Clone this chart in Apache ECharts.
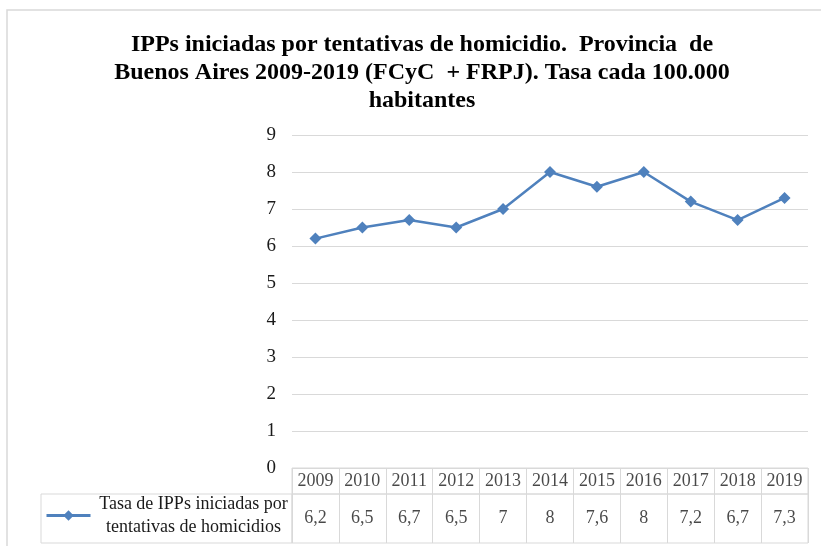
<!DOCTYPE html>
<html>
<head>
<meta charset="utf-8">
<script src="https://cdn.jsdelivr.net/npm/echarts@6/dist/echarts.min.js"></script>
<style>
html, body { margin: 0; padding: 0; background: #fff; }
#myChart { width: 821px; height: 546px; }
</style>
</head>
<body>
<div id="myChart"></div>
<script>
// datos
const years = ['2009', '2010', '2011', '2012', '2013', '2014', '2015', '2016', '2017', '2018', '2019']
const tasa = [6.2, 6.5, 6.7, 6.5, 7, 8, 7.6, 8, 7.2, 6.7, 7.3]
const seriesName = 'Tasa de IPPs iniciadas por\ntentativas de homicidios'
const titleText = 'IPPs iniciadas por tentativas de homicidio.  Provincia  de\nBuenos Aires 2009-2019 (FCyC  + FRPJ). Tasa cada 100.000\nhabitantes'

const serif = '"Liberation Serif", "Times New Roman", serif'
const gridColor = '#d9d9d9'
const txtColor = '#1a1a1a'

let myChart = echarts.init(document.getElementById('myChart'))

const tableAxis = (gi) => ({
  type: 'category',
  gridIndex: gi,
  data: years,
  axisLine: { show: false },
  axisTick: { show: false },
  axisLabel: { show: false },
  splitLine: { show: true, interval: 0, lineStyle: { color: gridColor } }
})
const hiddenY = (gi) => ({ type: 'value', gridIndex: gi, min: 0, max: 1, show: false })

myChart.setOption({
  animation: false,
  title: {
    text: titleText,
    left: 417,
    top: 26,
    textAlign: 'center',
    textStyle: { fontFamily: serif, fontWeight: 'bold', fontSize: 24, lineHeight: 28, color: '#000' }
  },
  legend: {
    data: [seriesName],
    left: 40,
    top: 490,
    itemWidth: 44,
    itemHeight: 13,
    itemGap: 4,
    lineStyle: { width: 3 },
    formatter: (name) => name.split('\n').map((s) => '{a|' + s + '}').join('\n'),
    textStyle: {
      fontFamily: serif, fontSize: 18, color: txtColor,
      rich: { a: { fontFamily: serif, fontSize: 18, lineHeight: 23, color: txtColor, width: 196, align: 'center' } }
    }
  },
  graphic: [
    { type: 'rect', shape: { x: 7, y: 10, width: 830, height: 560 }, style: { fill: 'none', stroke: gridColor, lineWidth: 1.5 }, silent: true },
    { type: 'rect', shape: { x: 41, y: 494, width: 251, height: 49 }, style: { fill: 'none', stroke: gridColor, lineWidth: 1 }, silent: true }
  ],
  grid: [
    { left: 292, right: 13, top: 135, bottom: 78 },
    { left: 292, right: 13, top: 468, height: 26, show: true, borderColor: gridColor, borderWidth: 1 },
    { left: 292, right: 13, top: 494, height: 49, show: true, borderColor: gridColor, borderWidth: 1 }
  ],
  xAxis: [
    { type: 'category', gridIndex: 0, data: years, axisLine: { show: false }, axisTick: { show: false }, axisLabel: { show: false } },
    tableAxis(1),
    tableAxis(2)
  ],
  yAxis: [
    {
      type: 'value', gridIndex: 0, min: 0, max: 9, interval: 1,
      axisLine: { show: false }, axisTick: { show: false },
      axisLabel: { fontFamily: serif, fontSize: 19, color: txtColor, margin: 16 },
      splitLine: { lineStyle: { color: gridColor } }
    },
    hiddenY(1),
    hiddenY(2)
  ],
  series: [
    {
      name: seriesName,
      type: 'line',
      data: tasa,
      symbol: 'diamond',
      symbolSize: 12,
      lineStyle: { color: '#4F81BD', width: 2.5 },
      itemStyle: { color: '#4F81BD' }
    },
    {
      type: 'scatter',
      xAxisIndex: 1,
      yAxisIndex: 1,
      symbolSize: 1,
      itemStyle: { color: 'transparent' },
      data: years.map((y) => [y, 0.5]),
      label: { show: true, position: 'inside', formatter: (p) => p.value[0], fontFamily: serif, fontSize: 18, color: txtColor }
    },
    {
      type: 'scatter',
      xAxisIndex: 2,
      yAxisIndex: 2,
      symbolSize: 1,
      itemStyle: { color: 'transparent' },
      data: years.map((y, i) => [y, 0.5, tasa[i]]),
      label: { show: true, position: 'inside', formatter: (p) => String(p.value[2]).replace('.', ','), fontFamily: serif, fontSize: 18, color: txtColor }
    }
  ]
})
</script>
</body>
</html>
